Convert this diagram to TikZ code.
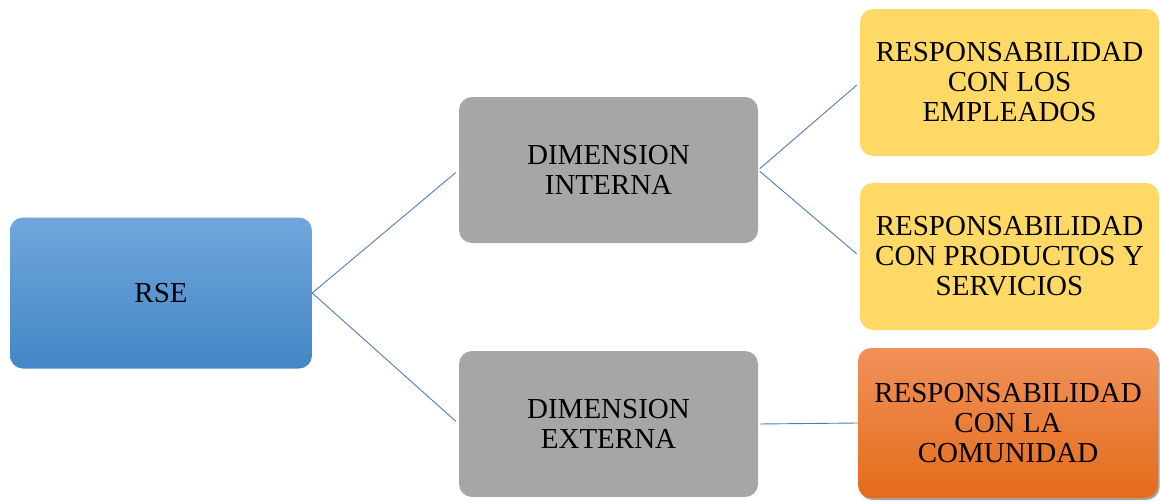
\documentclass[tikz,border=0pt]{standalone}
\usepackage{fontspec}
\setmainfont{Liberation Serif}
\usetikzlibrary{shadows}
\definecolor{linkblue}{RGB}{74,126,187}
\definecolor{rsetop}{RGB}{112,167,220}
\definecolor{rsebot}{RGB}{67,134,198}
\definecolor{dimgray}{RGB}{166,166,166}
\definecolor{respyellow}{RGB}{255,217,102}
\definecolor{comtop}{RGB}{241,145,90}
\definecolor{combot}{RGB}{228,108,26}
\begin{document}
\begin{tikzpicture}[x=1pt,y=-1pt,
  box/.style={rectangle, rounded corners=13pt, align=center,
    font=\fontsize{29}{30}\selectfont, inner sep=0pt},
  rsebox/.style={box, top color=rsetop, bottom color=rsebot,
    minimum width=302pt, minimum height=151pt},
  dimbox/.style={box, fill=dimgray, minimum width=299pt, minimum height=146pt},
  respbox/.style={box, fill=respyellow, minimum width=299pt, minimum height=147pt},
  combox/.style={box, top color=comtop, bottom color=combot,
    minimum width=300pt, minimum height=150pt,
    drop shadow={shadow xshift=1.5pt, shadow yshift=-2pt, opacity=0.35, fill=black}},
  link/.style={draw=linkblue, line width=0.9pt}]
  \useasboundingbox (0,0) rectangle (1160,501);

  \node[rsebox] (rse) at (161,293) {RSE};
  \node[dimbox] (int) at (608.5,170) {DIMENSION\\INTERNA};
  \node[dimbox] (ext) at (608.5,424) {DIMENSION\\EXTERNA};
  \node[respbox] (emp) at (1009.5,82.5) {RESPONSABILIDAD\\CON LOS\\EMPLEADOS};
  \node[respbox] (prod) at (1009.5,256.5) {RESPONSABILIDAD\\CON PRODUCTOS Y\\SERVICIOS};
  \node[combox] (com) at (1008,423) {RESPONSABILIDAD\\CON LA\\COMUNIDAD};

  \draw[link, shorten >=4pt] (rse.east) -- (int.west);
  \draw[link, shorten >=4pt] (rse.east) -- (ext.west);
  \draw[link, shorten <=2pt, shorten >=4pt] (int.east) -- (emp.west);
  \draw[link, shorten <=2pt, shorten >=4pt] (int.east) -- (prod.west);
  \draw[link, shorten <=2pt] (ext.east) -- (com.west);
\end{tikzpicture}
\end{document}
